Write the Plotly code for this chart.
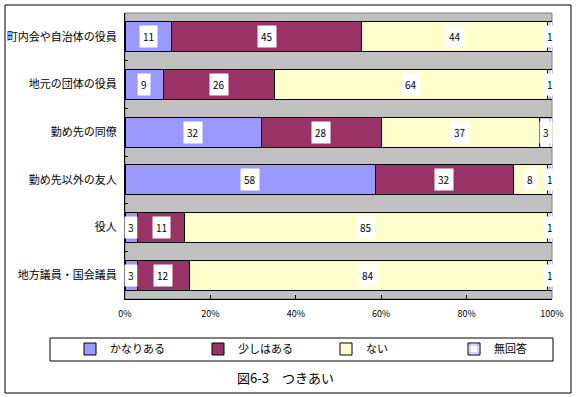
import plotly.graph_objects as go

categories = ["町内会や自治体の役員", "地元の団体の役員", "勤め先の同僚",
              "勤め先以外の友人", "役人", "地方議員・国会議員"]
series_names = ["かなりある", "少しはある", "ない", "無回答"]
kanari = [11, 9, 32, 58, 3, 3]
sukoshi = [45, 26, 28, 32, 11, 12]
nai = [44, 64, 37, 8, 85, 84]
mukaito = [1, 1, 3, 1, 1, 1]
tick_vals = [0, 20, 40, 60, 80, 100]
tick_text = ["0%", "20%", "40%", "60%", "80%", "100%"]
title_text = "図6-3　つきあい"

series = [kanari, sukoshi, nai, mukaito]
colors = ["#9999FF", "#993366", "#FFFFCC", "#FFFFFF"]
FONT = "Noto Sans CJK JP"

fig = go.Figure()
for name, vals, col in zip(series_names, series, colors):
    marker = dict(color=col, line=dict(color="black", width=1))
    if name == "無回答":
        marker = dict(color="white", line=dict(color="black", width=1),
                      pattern=dict(shape="+", fgcolor="#0000FF", bgcolor="white",
                                   size=10, solidity=0.15))
    fig.add_trace(go.Bar(y=categories, x=vals, name=name, orientation="h",
                         marker=marker))

# value labels with white boxes, positioned from normalized cumulative sums
for i, cat in enumerate(categories):
    total = sum(s[i] for s in series)
    cum = 0.0
    for s in series:
        v = s[i]
        mid = (cum + v / 2) / total * 100
        cum += v
        fig.add_annotation(x=mid, y=cat, xref="x", yref="y", text=str(v),
                           showarrow=False, bgcolor="white", borderpad=3,
                           font=dict(family=FONT, size=10, color="black"))

W, H = 577, 397
L, R, T, B = 125, 25, 13, 98
pw, ph = W - L - R, H - T - B

def px(x):
    return (x - L) / pw

def py(y):
    return (H - B - y) / ph

fig.update_layout(
    width=W, height=H,
    margin=dict(l=L, r=R, t=T, b=B, autoexpand=False),
    barmode="stack", barnorm="percent", bargap=0.37,
    plot_bgcolor="#C0C0C0", paper_bgcolor="white",
    font=dict(family=FONT, size=10, color="black"),
    showlegend=True,
    legend=dict(orientation="h", x=px(70), y=py(349), xanchor="left", yanchor="middle",
                borderwidth=0, bgcolor="rgba(0,0,0,0)",
                entrywidth=83, entrywidthmode="pixels",
                font=dict(family=FONT, size=11), traceorder="normal",
                itemwidth=30, tracegroupgap=0),
    xaxis=dict(range=[0, 100], tickvals=tick_vals, ticktext=tick_text,
               showgrid=False, zeroline=False, ticks="inside", ticklen=4,
               tickcolor="black", showline=True, linecolor="black", linewidth=1,
               ticklabelstandoff=6,
               tickfont=dict(family=FONT, size=9), automargin=False),
    yaxis=dict(autorange="reversed", showgrid=False, ticks="inside", ticklen=3,
               tickson="boundaries", tickcolor="black", showline=True,
               linecolor="black", linewidth=1, ticksuffix="  ",
               tickfont=dict(family=FONT, size=11), automargin=False),
    shapes=[
        dict(type="rect", xref="paper", yref="paper", x0=0, x1=1, y0=0, y1=1,
             line=dict(color="#808080", width=1), layer="below"),
        dict(type="rect", xref="paper", yref="paper", x0=px(5), x1=px(571),
             y0=py(393), y1=py(5), line=dict(color="black", width=1)),
        dict(type="rect", xref="paper", yref="paper", x0=px(50), x1=px(553),
             y0=py(361), y1=py(338), line=dict(color="black", width=1)),
    ],
)
fig.add_annotation(x=px(285), y=py(377), xref="paper", yref="paper",
                   xanchor="center", yanchor="middle",
                   text=title_text, showarrow=False,
                   font=dict(family=FONT, size=13, color="black"))

fig.write_html("out.html", config={"displayModeBar": False},
               post_script="document.body.style.margin='0';document.body.style.overflow='hidden';")
